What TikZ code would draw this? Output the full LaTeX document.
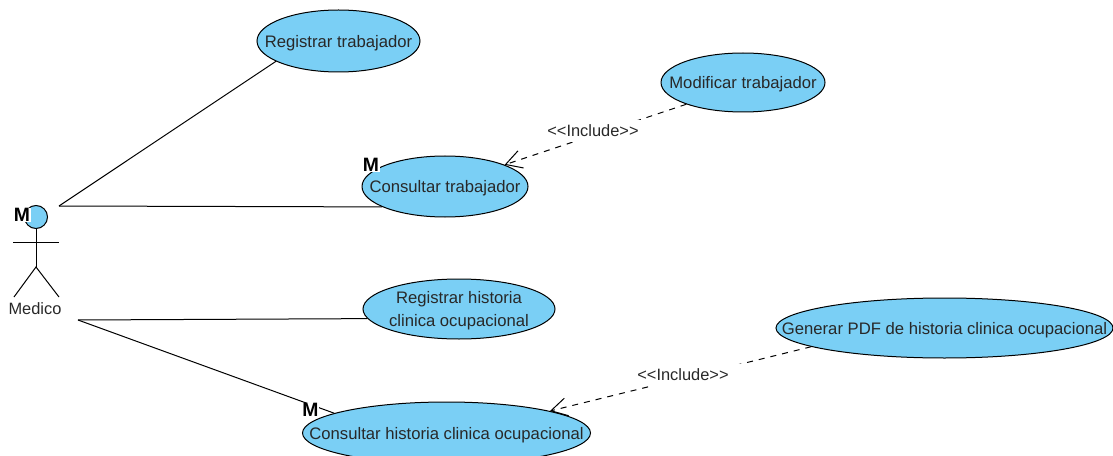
\documentclass[tikz,border=0pt]{standalone}
\usepackage{fontspec}
\setmainfont{Liberation Sans}
\usetikzlibrary{arrows.meta}
\usetikzlibrary{shapes.geometric}
\definecolor{custom-blue}{RGB}{122, 207, 245}
\definecolor{custom-text}{RGB}{40, 40, 40}
\tikzset{
  use-case/.style={ellipse, draw=black, fill=custom-blue, inner xsep=-60pt, inner ysep=-10pt, text=custom-text, text depth=0pt, align=center, font=\fontsize{12.5}{17}\selectfont},
  stereo-label/.style={fill=white, inner xsep=2pt, inner ysep=0pt, minimum height=22*0.75pt, text=custom-text, font=\fontsize{12.3}{14}\selectfont},
  include-line/.style={draw=black, dash pattern=on 4.5pt off 4.5pt, -{Straight Barb[length=12pt,width=13.5pt]}},
  master-mark/.style={fill=white, inner sep=0.4pt, font=\bfseries\fontsize{14.5}{15}\selectfont}
}
\begin{document}
\begin{tikzpicture}[x=0.75pt, y=-0.75pt, line width=0.75pt]
\useasboundingbox (0,0) rectangle (1113,456);
\node[use-case, minimum width=163*0.75pt, minimum height=62*0.75pt] (reg-trabajador) at (338.5,41) {Registrar trabajador};
\node[use-case, minimum width=164*0.75pt, minimum height=59*0.75pt] (mod-trabajador) at (743,82.5) {Modificar trabajador};
\node[use-case, minimum width=166*0.75pt, minimum height=61*0.75pt] (con-trabajador) at (445,186.5) {Consultar trabajador};
\node[use-case, minimum width=192*0.75pt, minimum height=60*0.75pt] (reg-historia) at (459,309) {Registrar historia\\clinica ocupacional};
\node[use-case, minimum width=337*0.75pt, minimum height=60*0.75pt] (gen-pdf) at (944.5,328) {Generar PDF de historia clinica ocupacional};
\node[use-case, minimum width=288*0.75pt, minimum height=62*0.75pt] (con-historia) at (446.5,433) {Consultar historia clinica ocupacional};

\node[circle, draw=black, fill=custom-blue, inner sep=0pt, minimum size=23*0.75pt] (head) at (36,217) {};
\coordinate (arm-left) at (13,242);
\coordinate (arm-right) at (59,242);
\coordinate (hip) at (36,267);
\coordinate (leg-left) at (14,297);
\coordinate (leg-right) at (59,297);
\coordinate (actor-top) at (59,206);
\coordinate (actor-bottom) at (78,320);
\draw (head) -- (hip);
\draw (arm-left) -- (arm-right);
\draw (leg-left) -- (hip) -- (leg-right);
\node[text=custom-text, font=\fontsize{12.3}{14}\selectfont] (medico) at (35,309) {Medico};

\draw (actor-top) -- (reg-trabajador.198);
\draw (actor-top) -- (con-trabajador.198);
\draw (actor-bottom) -- (reg-historia.186);
\draw (actor-bottom) -- (con-historia.170);

\draw[include-line] (mod-trabajador.201) -- (con-trabajador.20.5);
\draw[include-line] (gen-pdf.188.6) -- (con-historia.12);
\node[stereo-label] (include-a) at (597,131) {<{}<Include>{}>\kern6pt};
\node[stereo-label] (include-b) at (692,375) {<{}<Include>{}>\kern13.5pt};

\node[master-mark] (mark-head) at (22,215) {M};
\node[master-mark] (mark-trabajador) at (371,165) {M};
\node[master-mark] (mark-historia) at (310.5,410) {M};
\end{tikzpicture}
\end{document}
